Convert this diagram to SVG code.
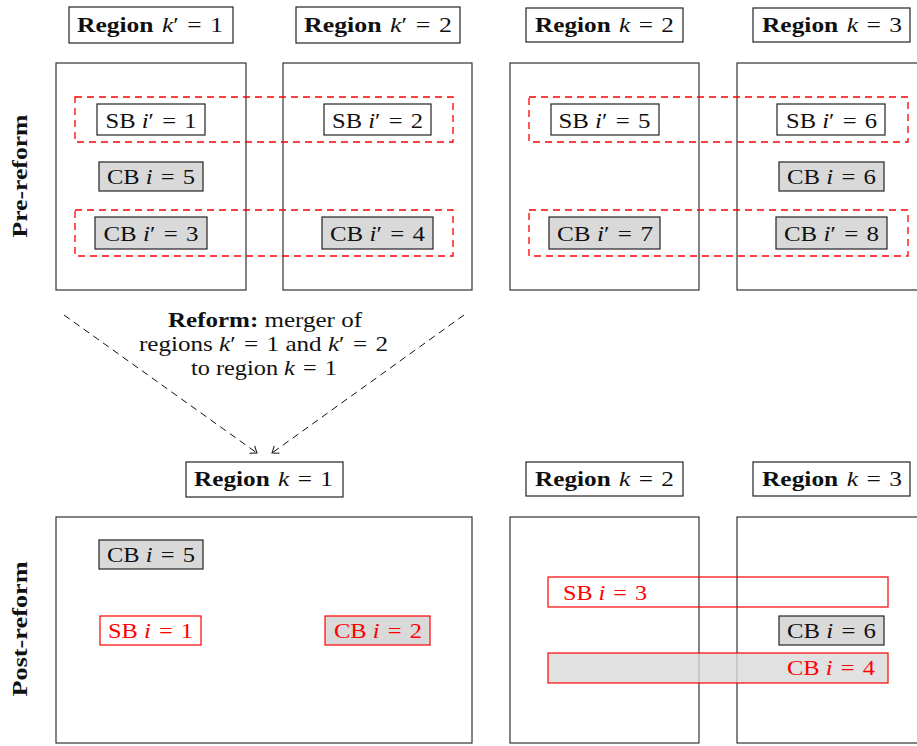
<svg xmlns="http://www.w3.org/2000/svg" width="917" height="746" viewBox="0 0 917 746">
<defs>
<style>
.t{font-size:22px;fill:#111}
.b{font-weight:bold}
.n{font-weight:normal}
.i{font-style:italic}
.red{fill:#ff0000}
.region{fill:none;stroke:#333;stroke-width:1.2}
.hdr{fill:#fff;stroke:#222;stroke-width:1.2}
.sb{fill:#fff;stroke:#222;stroke-width:1.2}
.cb{fill:#d9d9d9;stroke:#222;stroke-width:1.2}
.grp{fill:none;stroke:#ff0000;stroke-width:1.3;stroke-dasharray:7 5}
.rsb{fill:none;stroke:#ff0000;stroke-width:1.2}
.rcb{fill:#d9d9d9;stroke:#ff0000;stroke-width:1.2}
.conn{fill:none;stroke:#111;stroke-width:1;stroke-dasharray:7 5}
</style>
<marker id="arr" viewBox="-8 -6 10 12" markerWidth="10" markerHeight="12" refX="0" refY="0" orient="auto" markerUnits="userSpaceOnUse">
<path d="M-6,-4.5 Q-1.5,-1 0,0 Q-1.5,1 -6,4.5" fill="none" stroke="#111" stroke-width="1"/>
</marker>
</defs>
<rect width="917" height="746" fill="#fff"/>
<g font-family="Liberation Serif, Times New Roman, serif">

<!-- Row labels -->
<g id="label-pre">
<text class="t b" transform="translate(27,176) rotate(-90)" text-anchor="middle" textLength="123" lengthAdjust="spacingAndGlyphs">Pre-reform</text>
</g>
<g id="label-post">
<text class="t b" transform="translate(27,629) rotate(-90)" text-anchor="middle" textLength="135" lengthAdjust="spacingAndGlyphs">Post-reform</text>
</g>

<!-- Pre-reform regions -->
<g id="pre-region-k1p">
<rect class="hdr" x="69" y="7" width="164" height="36"/>
<text class="t b" x="150" y="32" text-anchor="middle" textLength="146" lengthAdjust="spacingAndGlyphs">Region&#8196;<tspan class="i n">k</tspan><tspan class="n">′&#8196;=&#8196;1</tspan></text>
<rect class="region" x="56" y="63" width="190" height="227"/>
</g>
<g id="pre-region-k2p">
<rect class="hdr" x="296" y="7" width="164" height="36"/>
<text class="t b" x="378" y="32" text-anchor="middle" textLength="148" lengthAdjust="spacingAndGlyphs">Region&#8196;<tspan class="i n">k</tspan><tspan class="n">′&#8196;=&#8196;2</tspan></text>
<rect class="region" x="283" y="63" width="189" height="227"/>
</g>
<g id="pre-region-k2">
<rect class="hdr" x="526" y="8" width="157" height="34"/>
<text class="t b" x="604.5" y="32" text-anchor="middle" textLength="139" lengthAdjust="spacingAndGlyphs">Region&#8196;<tspan class="i n">k</tspan><tspan class="n">&#8196;=&#8196;2</tspan></text>
<rect class="region" x="510" y="63" width="189" height="227"/>
</g>
<g id="pre-region-k3">
<rect class="hdr" x="753" y="8" width="157" height="34"/>
<text class="t b" x="832" y="32" text-anchor="middle" textLength="140" lengthAdjust="spacingAndGlyphs">Region&#8196;<tspan class="i n">k</tspan><tspan class="n">&#8196;=&#8196;3</tspan></text>
<rect class="region" x="737" y="63" width="190" height="227"/>
</g>

<!-- Pre-reform banks -->
<g id="pre-sb1p">
<rect class="sb" x="97" y="104" width="108" height="31"/>
<text class="t" x="151" y="127.5" text-anchor="middle" textLength="91" lengthAdjust="spacingAndGlyphs">SB <tspan class="i">i</tspan>′&#8196;=&#8196;1</text>
</g>
<g id="pre-sb2p">
<rect class="sb" x="324" y="104" width="107" height="31"/>
<text class="t" x="377.5" y="127.5" text-anchor="middle" textLength="91" lengthAdjust="spacingAndGlyphs">SB <tspan class="i">i</tspan>′&#8196;=&#8196;2</text>
</g>
<g id="pre-cb5">
<rect class="cb" x="99" y="162" width="104" height="29"/>
<text class="t" x="151" y="184" text-anchor="middle" textLength="88" lengthAdjust="spacingAndGlyphs">CB <tspan class="i">i</tspan>&#8196;=&#8196;5</text>
</g>
<g id="pre-cb3p">
<rect class="cb" x="95" y="217" width="112" height="32"/>
<text class="t" x="151" y="241" text-anchor="middle" textLength="95" lengthAdjust="spacingAndGlyphs">CB <tspan class="i">i</tspan>′&#8196;=&#8196;3</text>
</g>
<g id="pre-cb4p">
<rect class="cb" x="322" y="217" width="111" height="32"/>
<text class="t" x="377.5" y="241" text-anchor="middle" textLength="95" lengthAdjust="spacingAndGlyphs">CB <tspan class="i">i</tspan>′&#8196;=&#8196;4</text>
</g>
<g id="pre-sb5p">
<rect class="sb" x="551" y="104" width="108" height="31"/>
<text class="t" x="604.5" y="127.5" text-anchor="middle" textLength="92" lengthAdjust="spacingAndGlyphs">SB <tspan class="i">i</tspan>′&#8196;=&#8196;5</text>
</g>
<g id="pre-sb6p">
<rect class="sb" x="777" y="104" width="108" height="31"/>
<text class="t" x="831.5" y="127.5" text-anchor="middle" textLength="91" lengthAdjust="spacingAndGlyphs">SB <tspan class="i">i</tspan>′&#8196;=&#8196;6</text>
</g>
<g id="pre-cb6">
<rect class="cb" x="779" y="162" width="105" height="29"/>
<text class="t" x="831.5" y="184" text-anchor="middle" textLength="89" lengthAdjust="spacingAndGlyphs">CB <tspan class="i">i</tspan>&#8196;=&#8196;6</text>
</g>
<g id="pre-cb7p">
<rect class="cb" x="549" y="217" width="111" height="32"/>
<text class="t" x="605" y="241" text-anchor="middle" textLength="96" lengthAdjust="spacingAndGlyphs">CB <tspan class="i">i</tspan>′&#8196;=&#8196;7</text>
</g>
<g id="pre-cb8p">
<rect class="cb" x="776" y="217" width="111" height="32"/>
<text class="t" x="831.5" y="241" text-anchor="middle" textLength="95" lengthAdjust="spacingAndGlyphs">CB <tspan class="i">i</tspan>′&#8196;=&#8196;8</text>
</g>

<!-- Pre-reform groupings (dashed red) -->
<g id="pre-groups">
<rect class="grp" x="75" y="97" width="378" height="45"/>
<rect class="grp" x="75" y="210" width="378" height="46"/>
<rect class="grp" x="529" y="97" width="379" height="45"/>
<rect class="grp" x="529" y="210" width="379" height="46"/>
</g>

<!-- Reform annotation -->
<g id="reform-note">
<text class="t" x="265" y="327" text-anchor="middle" textLength="194" lengthAdjust="spacingAndGlyphs"><tspan class="b">Reform:</tspan> merger of</text>
<text class="t" x="263.5" y="351" text-anchor="middle" textLength="249" lengthAdjust="spacingAndGlyphs">regions <tspan class="i">k</tspan>′&#8196;=&#8196;1 and <tspan class="i">k</tspan>′&#8196;=&#8196;2</text>
<text class="t" x="264" y="375" text-anchor="middle" textLength="146" lengthAdjust="spacingAndGlyphs">to region <tspan class="i">k</tspan>&#8196;=&#8196;1</text>
</g>

<!-- Connectors -->
<g id="connectors">
<line class="conn" x1="64" y1="315" x2="257" y2="453" marker-end="url(#arr)"/>
<line class="conn" x1="464" y1="315" x2="272" y2="453" marker-end="url(#arr)"/>
</g>

<!-- Post-reform regions -->
<g id="post-region-k1">
<rect class="hdr" x="186" y="462" width="157" height="35"/>
<text class="t b" x="263.5" y="486" text-anchor="middle" textLength="139" lengthAdjust="spacingAndGlyphs">Region&#8196;<tspan class="i n">k</tspan><tspan class="n">&#8196;=&#8196;1</tspan></text>
<rect class="region" x="56" y="517" width="416" height="226"/>
</g>
<g id="post-region-k2">
<rect class="hdr" x="526" y="462" width="157" height="34"/>
<text class="t b" x="604.5" y="486" text-anchor="middle" textLength="139" lengthAdjust="spacingAndGlyphs">Region&#8196;<tspan class="i n">k</tspan><tspan class="n">&#8196;=&#8196;2</tspan></text>
<rect class="region" x="510" y="517" width="189" height="226"/>
</g>
<g id="post-region-k3">
<rect class="hdr" x="753" y="462" width="157" height="34"/>
<text class="t b" x="832" y="486" text-anchor="middle" textLength="140" lengthAdjust="spacingAndGlyphs">Region&#8196;<tspan class="i n">k</tspan><tspan class="n">&#8196;=&#8196;3</tspan></text>
<rect class="region" x="737" y="517" width="190" height="226"/>
</g>

<!-- Post-reform banks -->
<g id="post-cb5">
<rect class="cb" x="99" y="540" width="104" height="29"/>
<text class="t" x="151" y="562" text-anchor="middle" textLength="88" lengthAdjust="spacingAndGlyphs">CB <tspan class="i">i</tspan>&#8196;=&#8196;5</text>
</g>
<g id="post-sb1">
<rect class="rsb" x="100" y="616" width="101" height="29"/>
<text class="t red" x="150.5" y="638" text-anchor="middle" textLength="85" lengthAdjust="spacingAndGlyphs">SB <tspan class="i">i</tspan>&#8196;=&#8196;1</text>
</g>
<g id="post-cb2">
<rect class="rcb" x="325" y="616" width="105" height="29"/>
<text class="t red" x="378" y="638" text-anchor="middle" textLength="88" lengthAdjust="spacingAndGlyphs">CB <tspan class="i">i</tspan>&#8196;=&#8196;2</text>
</g>
<g id="post-sb3">
<rect class="rsb" x="548" y="577" width="340" height="30"/>
<text class="t red" x="563" y="600" textLength="84" lengthAdjust="spacingAndGlyphs">SB <tspan class="i">i</tspan>&#8196;=&#8196;3</text>
</g>
<g id="post-cb6">
<rect class="cb" x="779" y="616" width="105" height="29"/>
<text class="t" x="831.5" y="638" text-anchor="middle" textLength="89" lengthAdjust="spacingAndGlyphs">CB <tspan class="i">i</tspan>&#8196;=&#8196;6</text>
</g>
<g id="post-cb4">
<rect class="rcb" x="548" y="653" width="340" height="30" style="fill-opacity:0.8"/>
<text class="t red" x="875" y="675" text-anchor="end" textLength="88" lengthAdjust="spacingAndGlyphs">CB <tspan class="i">i</tspan>&#8196;=&#8196;4</text>
</g>
</g>
</svg>
